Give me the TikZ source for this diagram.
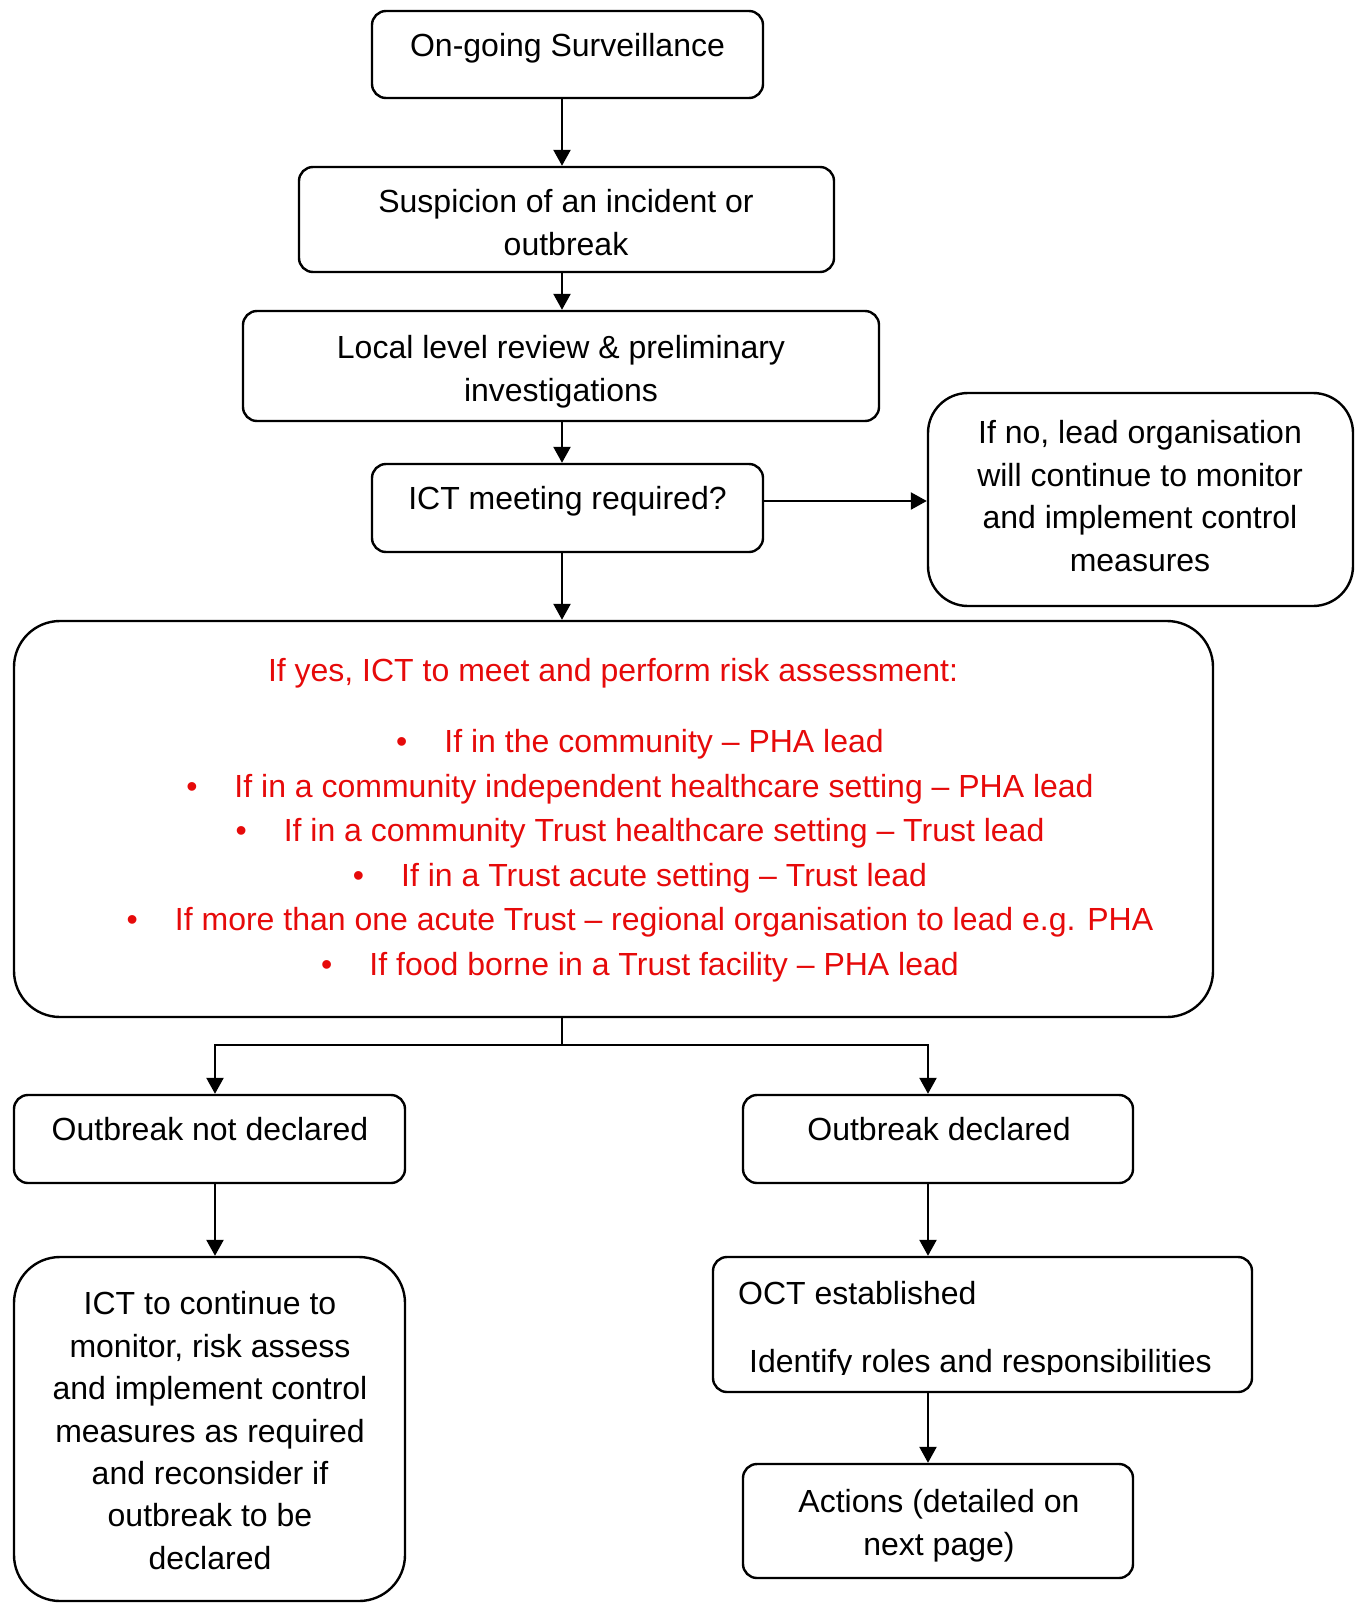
\documentclass[tikz,border=0pt]{standalone}
\usepackage{fontspec}
\setmainfont{Liberation Sans}
\usepackage{xcolor}
\usepackage{tikz}
\usetikzlibrary{arrows.meta, positioning, calc}
\definecolor{alertred}{RGB}{230,10,10}

\begin{document}
\begin{tikzpicture}[
    x=1pt, y=-1pt,
    box/.style={draw, line width=2.4pt, rounded corners=14pt, inner sep=0pt},
    bigbox/.style={box, rounded corners=46pt},
    txt/.style={font=\fontsize{32}{42.4}\selectfont, align=center, inner sep=0pt, anchor=north},
    riskline/.style={txt, text=alertred},
    flow/.style={-{Triangle[length=16pt, width=17pt]}, line width=2.4pt}
]
    \useasboundingbox (0,0) rectangle (1362,1603);
    \coordinate (spine) at (562,0);
    \coordinate (lcol) at (215,0);
    \coordinate (rcol) at (928,0);

    % Boxes
    \node[box, minimum width=391pt, minimum height=87pt] (surv) at (567.5,54.5) {};
    \node[box, minimum width=535pt, minimum height=105pt] (susp) at (566.5,219.5) {};
    \node[box, minimum width=636pt, minimum height=110pt] (local) at (561,366) {};
    \node[box, minimum width=391pt, minimum height=88pt] (ict) at (567.5,508) {};
    \node[bigbox, rounded corners=40pt, minimum width=425pt, minimum height=213pt] (ifno) at (1140.5,499.5) {};
    \node[bigbox, minimum width=1199pt, minimum height=396pt] (risk) at (613.5,819) {};
    \node[box, minimum width=391pt, minimum height=88pt] (notdecl) at (209.5,1139) {};
    \node[box, minimum width=390pt, minimum height=88pt] (decl) at (938,1139) {};
    \node[bigbox, minimum width=391pt, minimum height=344pt] (cont) at (209.5,1429) {};
    \node[box, minimum width=539pt, minimum height=135pt] (oct) at (982.5,1324.5) {};
    \node[box, minimum width=390pt, minimum height=114pt] (actions) at (938,1521) {};

    % Texts
    \node[txt] (survtxt) at (567.5,33.5) {On-going Surveillance};
    \node[txt] (susptxt) at (566,189.5) {Suspicion of an incident or\\outbreak};
    \node[txt] (localtxt) at (561,335.5) {Local level review \& preliminary\\investigations};
    \node[txt] (icttxt) at (567.5,486.5) {ICT meeting required?};
    \node[txt] (ifnotxt) at (1140,420.5) {If no, lead organisation\\will continue to monitor\\and implement control\\measures};
    \node[riskline] (risktitle) at (613,658.5) {If yes, ICT to meet and perform risk assessment:};
    \node[riskline] (risk1) at (640,729.5) {\textbullet\hspace{37pt}If in the community -- PHA lead};
    \node[riskline] (risk2) at (640,774.5) {\textbullet\hspace{37pt}If in a community independent healthcare setting -- PHA lead};
    \node[riskline] (risk3) at (640,818.5) {\textbullet\hspace{37pt}If in a community Trust healthcare setting -- Trust lead};
    \node[riskline] (risk4) at (640,863.5) {\textbullet\hspace{37pt}If in a Trust acute setting -- Trust lead};
    \node[riskline] (risk5) at (640,907.5) {\textbullet\hspace{37pt}If more than one acute Trust -- regional organisation to lead e.g. PHA};
    \node[riskline] (risk6) at (640,952.5) {\textbullet\hspace{37pt}If food borne in a Trust facility -- PHA lead};
    \node[txt] (notdecltxt) at (210,1117.5) {Outbreak not declared};
    \node[txt] (decltxt) at (939,1117.5) {Outbreak declared};
    \node[txt] (conttxt) at (210,1291.5) {ICT to continue to\\monitor, risk assess\\and implement control\\measures as required\\and reconsider if\\outbreak to be\\declared};
    \node[txt, anchor=north west] (octtxt) at (738,1281.5) {OCT established};
    \begin{scope}
        \clip (713,1257) rectangle (1252,1374);
        \node[txt, anchor=north west] (roletxt) at (749,1349.5) {Identify roles and responsibilities};
    \end{scope}
    \node[txt] (actionstxt) at (939,1489.5) {Actions (detailed on\\next page)};

    % Connectors
    \coordinate (split) at (562,1045);
    \draw[flow] (surv.south -| spine) -- (susp.north -| spine);
    \draw[flow] (susp.south -| spine) -- (local.north -| spine);
    \draw[flow] (local.south -| spine) -- (ict.north -| spine);
    \draw[flow] (ict.south -| spine) -- (risk.north -| spine);
    \draw[flow] ([yshift=7pt]ict.east) -- ([yshift=7pt]ict.east -| ifno.west);
    \draw[line width=2.4pt] (risk.south -| spine) -- (split);
    \draw[flow] (split) -| (notdecl.north -| lcol);
    \draw[flow] (split) -| (decl.north -| rcol);
    \draw[flow] (notdecl.south -| lcol) -- (cont.north -| lcol);
    \draw[flow] (decl.south -| rcol) -- (oct.north -| rcol);
    \draw[flow] (oct.south -| rcol) -- (actions.north -| rcol);
\end{tikzpicture}
\end{document}
